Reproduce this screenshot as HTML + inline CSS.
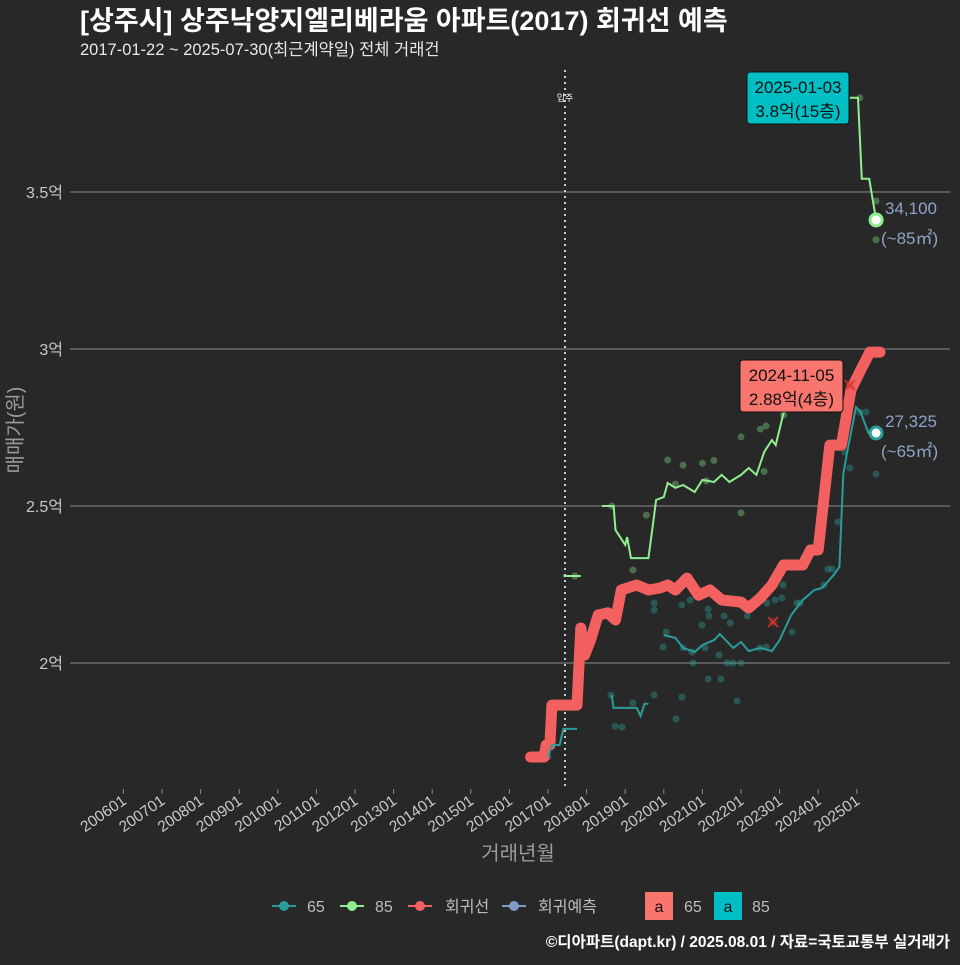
<!DOCTYPE html>
<html><head><meta charset="utf-8">
<style>
html,body{margin:0;padding:0;background:#282828;}
body{width:960px;height:960px;overflow:hidden;font-family:"Liberation Sans","Noto Sans CJK KR",sans-serif;}
svg text{font-family:"Liberation Sans","Noto Sans CJK KR",sans-serif;}
</style></head>
<body>
<svg id="chart" width="960" height="960" xmlns="http://www.w3.org/2000/svg">
<rect width="960" height="960" fill="#282828"/>
<text x="80" y="30" fill="#ffffff" font-size="27" font-weight="bold">[상주시] 상주낙양지엘리베라움 아파트(2017) 회귀선 예측</text>
<text x="80" y="55" fill="#e8e8e8" font-size="16.5">2017-01-22 ~ 2025-07-30(최근계약일) 전체 거래건</text>
<g id="grid"></g>
<g id="xaxis"></g>
<g id="marks"></g>
<text x="518" y="860" fill="#9a9a9a" font-size="20" text-anchor="middle">거래년월</text>
<text transform="translate(22,430) rotate(-90)" fill="#9a9a9a" font-size="20" text-anchor="middle">매매가(원)</text>
<g font-size="16" fill="#bdbdbd">
 <g><line x1="272" y1="906" x2="296" y2="906" stroke="#2a9d9a" stroke-width="2"/><circle cx="284" cy="906" r="5" fill="#2a9d9a"/><text x="307" y="912">65</text></g>
 <g><line x1="340" y1="906" x2="364" y2="906" stroke="#90ee90" stroke-width="2"/><circle cx="352" cy="906" r="5" fill="#90ee90"/><text x="375" y="912">85</text></g>
 <g><line x1="408" y1="906" x2="432" y2="906" stroke="#f26060" stroke-width="2"/><circle cx="420" cy="906" r="5" fill="#f26060"/><text x="445" y="912">회귀선</text></g>
 <g><line x1="502" y1="906" x2="526" y2="906" stroke="#7f9ac8" stroke-width="2"/><circle cx="514" cy="906" r="5" fill="#7f9ac8"/><text x="538" y="912">회귀예측</text></g>
 <g><rect x="645" y="892" width="28" height="28" fill="#f8766d"/><text x="659" y="912" fill="#111" text-anchor="middle">a</text><text x="684" y="912">65</text></g>
 <g><rect x="714" y="892" width="28" height="28" fill="#00bfc4"/><text x="728" y="912" fill="#111" text-anchor="middle">a</text><text x="752" y="912">85</text></g>
</g>
<text x="950" y="947" fill="#ffffff" font-size="15.5" font-weight="bold" text-anchor="end">©디아파트(dapt.kr) / 2025.08.01 / 자료=국토교통부 실거래가</text>
</svg>
<script>
const yTicks=[20000,25000,30000,35000];
const yTickLabels=["2억","2.5억","3억","3.5억"];
const xTickLabels=["200601","200701","200801","200901","201001","201101","201201","201301","201401","201501","201601","201701","201801","201901","202001","202101","202201","202301","202401","202501"];
const regLine=[[2016.55,17006],[2016.9,17006],[2016.95,17390],[2017.05,17390],[2017.1,18660],[2017.75,18660],[2017.85,21115],[2017.95,20255],[2018.1,20730],[2018.3,21530],[2018.55,21600],[2018.75,21370],[2018.9,22325],[2019.3,22484],[2019.6,22325],[2019.9,22390],[2020.1,22484],[2020.3,22325],[2020.6,22705],[2020.9,22160],[2021.2,22325],[2021.5,22005],[2022.0,21940],[2022.2,21750],[2022.5,22070],[2022.8,22484],[2023.1,23120],[2023.6,23120],[2023.8,23600],[2024.0,23600],[2024.3,26940],[2024.6,26940],[2024.85,28700],[2025.1,29330],[2025.34,29900],[2025.6,29900]];
const line65=[[[2017.0,17006],[2017.1,17390],[2017.3,17390],[2017.4,17900],[2017.75,17900]],
[[2018.65,18980],[2018.7,18570],[2019.3,18570],[2019.4,18310],[2019.5,18700],[2019.6,18700]],
[[2020.0,20890],[2020.3,20800],[2020.5,20480],[2020.8,20350],[2021.0,20570],[2021.3,20730],[2021.45,20920],[2021.8,20480],[2022.0,20670],[2022.2,20380],[2022.5,20480],[2022.8,20380],[2023.0,20730],[2023.3,21530],[2023.6,22005],[2023.9,22325],[2024.1,22390],[2024.4,22800],[2024.55,23060],[2024.65,26020],[2024.75,26720],[2024.98,28150],[2025.1,27990],[2025.3,27325],[2025.5,27325]]];
const line85=[[[2017.4,22770],[2017.85,22770]],
[[2018.4,25000],[2018.7,25000],[2018.75,24236],[2019.0,23760],[2019.05,24010],[2019.15,23340],[2019.6,23340],[2019.7,24236],[2019.8,25190],[2020.0,25287],[2020.1,25733],[2020.3,25575],[2020.5,25670],[2020.8,25446],[2021.0,25830],[2021.3,25765],[2021.5,25990],[2021.7,25765],[2022.0,25990],[2022.2,26210],[2022.4,25990],[2022.6,26720],[2022.8,27100],[2022.9,26940],[2023.1,27960],[2023.5,28300]],
[[2024.82,38000],[2025.03,38000],[2025.13,35420],[2025.32,35420],[2025.5,34110]]];
const pts65=[[2017.0,17006],[2018.63,18980],[2018.92,17960],[2018.74,17990],[2019.2,18730],[2019.75,18980],[2020.32,18216],[2020.47,18917],[2019.75,21911],[2019.75,21688],[2020.06,20987],[2019.98,20510],[2020.5,20480],[2020.73,20350],[2020.47,21847],[2020.68,22005],[2021.15,21720],[2021.17,21497],[2020.99,21210],[2021.56,21497],[2021.72,21274],[2021.07,20480],[2021.43,20255],[2021.79,20000],[2022.0,20000],[2021.64,20000],[2020.76,20000],[2021.15,19490],[2021.48,19490],[2021.9,18790],[2022.16,21497],[2022.49,20480],[2022.65,20510],[2022.67,21911],[2022.88,22005],[2023.06,22070],[2023.09,22484],[2023.32,20987],[2023.45,21911],[2023.53,21911],[2024.15,22484],[2024.25,22994],[2024.36,22994],[2024.51,24490],[2024.69,26720],[2024.82,26210],[2025.08,27990],[2025.24,27990],[2025.5,26020]];
const pts85=[[2017.7,22770],[2018.65,25000],[2019.2,22960],[2019.55,24710],[2020.1,26465],[2020.5,26300],[2020.3,25700],[2021.0,26360],[2021.3,26450],[2021.1,25800],[2022.0,27200],[2022.5,27450],[2022.65,27550],[2022.0,24780],[2022.6,26100],[2023.1,27900],[2025.08,38000],[2025.5,34715],[2025.5,33480]];
const regMarks=[[2022.83,21306],[2024.82,28850]];
const x=t=>548+(t-2017)*38.6;
const y=v=>663-(v-20000)*157/5000;
const NS="http://www.w3.org/2000/svg";
function mk(tag,parent,attrs){const e=document.createElementNS(NS,tag);for(const k in attrs)e.setAttribute(k,attrs[k]);parent.appendChild(e);return e;}
const grid=document.getElementById('grid'),xa=document.getElementById('xaxis'),marks=document.getElementById('marks');
yTicks.forEach((v,i)=>{
 const l=mk('line',grid,{x1:70,x2:950,y1:y(v),y2:y(v),stroke:'#8a8a8a','stroke-width':1});
 
 
 const t=mk('text',grid,{x:63,y:y(v)+6,fill:'#c8c8c8','font-size':16,'text-anchor':'end'});
 t.textContent=yTickLabels[i];
 
 
});
xTickLabels.forEach((s,i)=>{
 const px=x(2006+i);
 const tk=mk('line',xa,{x1:px,x2:px,y1:789,y2:794,stroke:'#888'});
 
 
 const t=mk('text',xa,{transform:`translate(${px+4},${803}) rotate(-35)`,fill:'#c8c8c8','font-size':15.5,'text-anchor':'end'});
 t.textContent=s;
 
 
});
const mv=mk('line',marks,{x1:565,x2:565,y1:70,y2:790,stroke:'#cccccc','stroke-width':2,'stroke-dasharray':'2,4'});


const mvt=mk('text',marks,{x:565,y:101,fill:'#fff','font-size':9,'text-anchor':'middle'});
mvt.textContent='입주';


const P=a=>a.map(p=>x(p[0]).toFixed(1)+','+y(p[1]).toFixed(1)).join(' ');
pts65.forEach(p=>{const c=mk('circle',marks,{cx:x(p[0]),cy:y(p[1]),r:3.5,fill:'#2a9d9a','fill-opacity':0.4});
 
 });
pts85.forEach(p=>{const c=mk('circle',marks,{cx:x(p[0]),cy:y(p[1]),r:3.5,fill:'#90ee90','fill-opacity':0.35});
 
 });
const rl=mk('polyline',marks,{points:P(regLine),fill:'none',stroke:'#f26060','stroke-width':11,'stroke-linejoin':'round','stroke-linecap':'round'});


line65.forEach(s=>{const l=mk('polyline',marks,{points:P(s),fill:'none',stroke:'#2a9d9a','stroke-width':2});
 
 });
line85.forEach(s=>{const l=mk('polyline',marks,{points:P(s),fill:'none',stroke:'#90ee90','stroke-width':2});
 
 });
regMarks.forEach(p=>{const g=mk('g',marks,{stroke:'#e0302f','stroke-width':1.5});
 
 
 const cx=x(p[0]),cy=y(p[1]);
 mk('circle',g,{cx,cy,r:4,fill:'#e0302f','fill-opacity':0.4,stroke:'none'});
 mk('line',g,{x1:cx-5,y1:cy-5,x2:cx+5,y2:cy+5});mk('line',g,{x1:cx-5,y1:cy+5,x2:cx+5,y2:cy-5});});
const e85=line85[2][line85[2].length-1], e65=line65[2][line65[2].length-1];
[[e85,'#90ee90','end-point-85'],[e65,'#2a9d9a','end-point-65']].forEach(([p,c,n])=>{
 const g=mk('circle',marks,{cx:x(p[0]),cy:y(p[1]),r:6,fill:'#fff',stroke:c,'stroke-width':3});
 
 });
[[e85,'34,100','(~85㎡)','end-label-85'],[e65,'27,325','(~65㎡)','end-label-65']].forEach(([p,a,b,n])=>{
 const t=mk('text',marks,{x:885,y:y(p[1])-6,fill:'#8fa3c8','font-size':17});t.textContent=a;
 
 
 const t2=mk('text',marks,{x:881,y:y(p[1])+24,fill:'#8fa3c8','font-size':17});t2.textContent=b;
 
 });
function box(bx,by,w,fill,l1,l2,n){const g=mk('g',marks,{});
 
 
 mk('rect',g,{x:bx,y:by,width:w,height:52,rx:3,fill,stroke:'#111','stroke-width':1});
 const a=mk('text',g,{x:bx+w/2,y:by+21,'font-size':17,'text-anchor':'middle',fill:'#111'});a.textContent=l1;
 const b=mk('text',g,{x:bx+w/2,y:by+45,'font-size':17,'text-anchor':'middle',fill:'#111'});b.textContent=l2;}
box(747,72,102,'#00bfc4','2025-01-03','3.8억(15층)','max-annotation-85');
box(740,360,103,'#f8766d','2024-11-05','2.88억(4층)','max-annotation-65');
</script>
</body></html>
